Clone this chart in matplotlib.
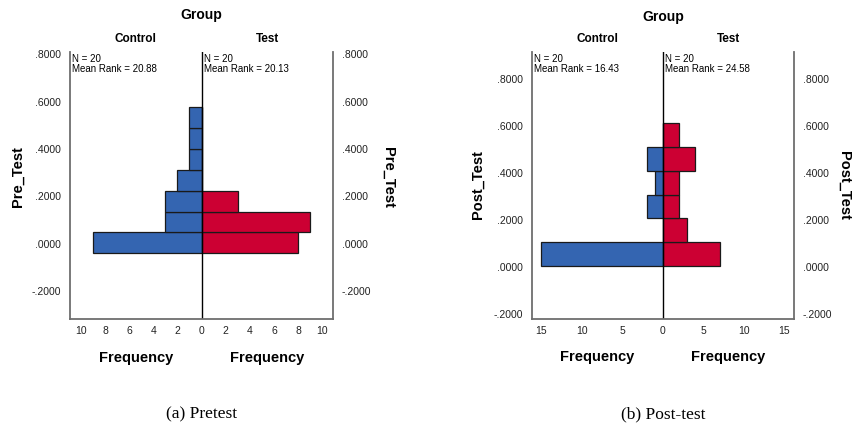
import matplotlib
matplotlib.use("Agg")
import matplotlib.pyplot as plt
import numpy as np

# histogram bin edges and counts
pre_edges = [-0.039, 0.048, 0.136, 0.224, 0.313, 0.401, 0.489, 0.577]
pre_control = [9, 3, 3, 2, 1, 1, 1]
pre_test = [8, 9, 3, 0, 0, 0, 0]
pre_ranks = ["20.88", "20.13"]

post_edges = [0.007, 0.107, 0.208, 0.308, 0.407, 0.508, 0.610]
post_control = [15, 0, 2, 1, 2, 0]
post_test = [7, 3, 2, 2, 4, 2]
post_ranks = ["16.43", "24.58"]

group_names = ["Control", "Test"]
n_per_group = [20, 20]

BLUE = "#3465b1"
RED = "#cc0033"
SANS = ["Liberation Sans", "DejaVu Sans"]
NARROW = ["Liberation Sans Narrow", "Liberation Sans", "DejaVu Sans"]

plt.rcParams["font.family"] = SANS


def fmt_y(v, pos):
    s = "%.4f" % abs(v)
    return ("-" if v < -1e-9 else "") + s[1:]


def draw_panel(fig, rect, edges, control, test, ranks, ylim, xmax, xstep,
               varname, ylab_x, ylab_rx, ylab_y, caption, title_y):
    ax = fig.add_axes(rect)
    edges = np.array(edges)
    width = np.diff(edges)
    ax.barh(edges[:-1], -np.array(control), height=width, align="edge",
            color=BLUE, edgecolor="#1a1a1a", linewidth=0.9)
    ax.barh(edges[:-1], test, height=width, align="edge",
            color=RED, edgecolor="#1a1a1a", linewidth=0.9)
    ax.axvline(0, color="black", linewidth=1.0)

    ax.set_xlim(-xmax, xmax)
    ax.set_ylim(*ylim)
    xt = np.arange(-(xmax // xstep) * xstep, xmax + 0.01, xstep)
    ax.set_xticks(xt)
    ax.set_xticklabels(["%d" % abs(v) for v in xt], fontsize=7.5)
    ax.set_yticks(np.arange(-0.2, 0.81, 0.2))
    ax.yaxis.set_major_formatter(plt.FuncFormatter(fmt_y))
    ax.tick_params(axis="y", left=False, right=False, labelleft=True,
                   labelright=True, labelsize=7.5, pad=3, colors="#222222")
    ax.tick_params(axis="x", length=0, pad=5, colors="#222222")
    ax.spines["top"].set_visible(False)
    for s in ["left", "right", "bottom"]:
        ax.spines[s].set_color("#6e6e6e")
        ax.spines[s].set_linewidth(1.3)

    # group headers and annotations
    for i, name in enumerate(group_names):
        cx = 0.25 + 0.5 * i
        ax.text(cx, 1.025, name, transform=ax.transAxes, ha="center",
                va="bottom", fontsize=8.5, fontweight="bold")
        ax.text(cx, -0.145, "Frequency", transform=ax.transAxes,
                ha="center", va="center", fontsize=10.5, fontweight="bold")
        ax.text(0.008 + 0.5 * i, 0.993,
                "N = %d\nMean Rank = %s" % (n_per_group[i], ranks[i]),
                transform=ax.transAxes, ha="left", va="top", fontsize=7,
                family=NARROW, linespacing=1.0)

    x0, y0, w, h = rect
    fig.text(x0 + w / 2, title_y, "Group", ha="center", va="center",
             fontsize=10, fontweight="bold")
    fig.text(ylab_x, ylab_y, varname, ha="center", va="center", rotation=90,
             fontsize=10.5, fontweight="bold")
    fig.text(ylab_rx, ylab_y, varname, ha="center", va="center",
             rotation=270, fontsize=10.5, fontweight="bold")
    fig.text(x0 + w / 2, 1 - 414 / 429, caption, ha="center", va="center",
             fontsize=12.5, family=["Liberation Serif", "DejaVu Serif"])
    return ax


fig = plt.figure(figsize=(8.52, 4.29), dpi=100)

draw_panel(fig, [70 / 852, 1 - 319 / 429, 263 / 852, 267 / 429],
           pre_edges, pre_control, pre_test, pre_ranks,
           (-0.318, 0.81), 10.9, 2, "Pre_Test",
           18 / 852, 388 / 852, 1 - 177 / 429, "(a) Pretest", 1 - 15 / 429)

draw_panel(fig, [531.7 / 852, 1 - 318.7 / 429, 262.3 / 852, 267 / 429],
           post_edges, post_control, post_test, post_ranks,
           (-0.218, 0.914), 16.2, 5, "Post_Test",
           478 / 852, 844 / 852, 1 - 185 / 429, "(b) Post-test", 1 - 17 / 429)

fig.savefig("out.png", dpi=100)
